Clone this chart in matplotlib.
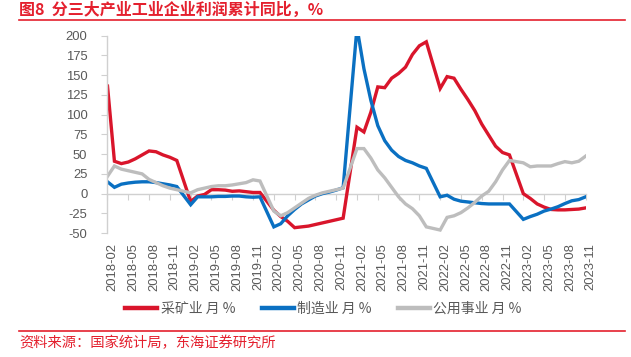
import matplotlib
matplotlib.use("Agg")
import matplotlib.pyplot as plt
import matplotlib.transforms as mtransforms
from matplotlib.lines import Line2D
from matplotlib.font_manager import FontProperties

# ---- data (cumulative YoY %, Jan-Feb combined, no January release) ----
months = (
    ["2018-%02d" % m for m in range(2, 13)]
    + ["2019-%02d" % m for m in range(2, 13)]
    + ["2020-%02d" % m for m in range(2, 13)]
    + ["2021-%02d" % m for m in range(2, 13)]
    + ["2022-%02d" % m for m in range(2, 13)]
    + ["2023-%02d" % m for m in range(2, 12)]
)
mining = [136, 41, 38, 40, 44, 49, 54, 53, 49, 46, 42,
          -10, -3, -1, 5, 5, 4.5, 3, 3.5, 2.5, 1.5, 1.5,
          -21, -29, -35, -43, -42, -41, -39, -37, -35, -33, -31,
          84, 78, 103, 135, 134, 146, 152, 160, 176, 187, 192,
          133, 148, 146, 132, 119, 105, 88, 74, 60, 52, 49,
          0, -6, -13, -17, -20, -20.5, -20.5, -20, -19.5, -18]
manufacturing = [15, 8, 12, 13.5, 14.5, 15, 15, 14, 12.5, 11, 9,
                 -14, -4, -4, -4, -3.5, -3.5, -3, -3, -4, -4.5, -4,
                 -42, -38, -28, -20, -13, -8, -3, 0, 2, 4.5, 7.5,
                 210, 158, 118, 86, 67, 55, 47, 42, 39, 35, 32,
                 -4, -2, -7, -9.5, -10.5, -11.5, -12.5, -13, -13, -13, -13,
                 -32.5, -29, -26, -22, -19.5, -16.5, -12.5, -9, -7.5, -4]
utilities = [22, 35, 31, 29, 27, 25, 18, 14, 10, 7, 5,
             1, 5, 7, 9, 10, 10, 11, 12.5, 14, 17.5, 16,
             -22, -28, -24, -18, -12, -6, -2, 1, 3, 5, 7,
             57, 57, 45, 30, 20, 8, -4, -13, -19, -28, -42,
             -46, -30, -28, -24, -18, -11, -3, 3, 15, 30, 42,
             39, 34, 35, 35, 35, 38, 40.5, 39, 41, 47.5]
series_names = ["采矿业 月 %", "制造业 月 %", "公用事业 月 %"]
series_colors = ["#D9152B", "#0A70C2", "#BDBDBD"]
title_text = "图8  分三大产业工业企业利润累计同比，%"
source_text = "资料来源：国家统计局，东海证券研究所"
yticks = [-50, -25, 0, 25, 50, 75, 100, 125, 150, 175, 200]

# month index from 2018-02 (January kept as an empty slot on the axis)
def month_pos(s):
    y, m = s.split("-")
    return (int(y) - 2018) * 12 + int(m) - 2

xpos = [month_pos(s) for s in months]
last = xpos[-1]
all_labels = {}
for y in range(2018, 2024):
    for m in range(1, 13):
        all_labels[(y - 2018) * 12 + m - 2] = "%d-%02d" % (y, m)
tick_pos = list(range(0, last + 1, 3))
tick_lab = [all_labels[p] for p in tick_pos]

RED = "#E4202E"
GRAYTXT = "#595959"
AXGRAY = "#D0D0D0"
CJK = ["Noto Sans CJK SC", "DejaVu Sans"]
NUM = ["Liberation Sans", "DejaVu Sans"]

W, H = 631, 357
fig = plt.figure(figsize=(W / 100, H / 100), dpi=100)
ax = fig.add_axes([107.5 / W, 1 - 233.2 / H, (585.7 - 107.5) / W, (233.2 - 35.5) / H])

for vals, name, col in zip([mining, manufacturing, utilities], series_names, series_colors):
    ax.plot(xpos, vals, color=col, lw=2.4, label=name, solid_joinstyle="miter")

ax.set_xlim(0, last)
ax.set_ylim(-50, 200)
ax.set_yticks(yticks)
ax.set_yticklabels([str(v) for v in yticks], fontfamily=NUM, fontsize=9.4, color=GRAYTXT)
ax.tick_params(axis="y", direction="out", length=4.5, width=0.8, color=AXGRAY, pad=10)

for s in ["top", "right", "bottom"]:
    ax.spines[s].set_visible(False)
ax.spines["left"].set_color(AXGRAY)
ax.spines["left"].set_linewidth(1.0)

# labels at bottom
ax.set_xticks(tick_pos)
ax.set_xticklabels(tick_lab, rotation=90, fontfamily=NUM, fontsize=9.4, color=GRAYTXT, va="top")
ax.tick_params(axis="x", length=0, pad=7)
offset = mtransforms.ScaledTranslation(5 / 100, 0, fig.dpi_scale_trans)
for lbl in ax.get_xticklabels():
    lbl.set_transform(lbl.get_transform() + offset)

# zero axis line with tick marks
zero_frac = (0 - (-50)) / 250
sec = ax.secondary_xaxis(zero_frac)
sec.set_xticks(tick_pos)
sec.set_xticklabels([])
sec.tick_params(axis="x", direction="out", length=4.5, width=0.8, color=AXGRAY)
sec.spines["bottom"].set_color(AXGRAY)
sec.spines["bottom"].set_linewidth(1.0)

# legend
leg = fig.legend(loc="center", bbox_to_anchor=(323.5 / W, 1 - 309 / H), ncol=3, frameon=False,
                 handlelength=2.3, handletextpad=0.25, columnspacing=1.9,
                 prop=FontProperties(family=CJK, size=10))
for t in leg.get_texts():
    t.set_color(GRAYTXT)
for h in leg.get_lines():
    h.set_linewidth(3.2)

# title, rules, source
fig.text(19 / W, 1 - 10 / H, title_text, color=RED, fontsize=11.5, fontweight="bold",
         family=CJK, va="center", ha="left")
fig.add_artist(Line2D([19 / W, 625 / W], [1 - 19.5 / H] * 2, color=RED, lw=1.2))
fig.add_artist(Line2D([19 / W, 625 / W], [1 - 331 / H] * 2, color=RED, lw=1.2))
fig.text(19 / W, 1 - 343 / H, source_text, color=RED, fontsize=10.3, family=CJK,
         va="center", ha="left")

fig.savefig("out.png", dpi=100)
